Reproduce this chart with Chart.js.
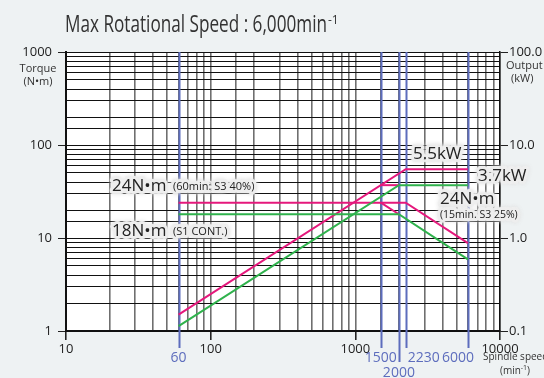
<!DOCTYPE html>
<html>
<head>
<meta charset="utf-8">
<script src="https://cdn.jsdelivr.net/npm/chart.js@4.4.1/dist/chart.umd.min.js"></script>
<style>
  html, body { margin: 0; padding: 0; background: #eef2f3; }
  #wrap { width: 544px; height: 378px; position: relative; }
</style>
</head>
<body>
<div id="wrap"><canvas id="chart"></canvas></div>
<script>
// rotational speed (min-1) / torque (N·m) / output (kW)
const torqueS3Speed = [60, 2230, 6000];
const torqueS3 = [24, 24, 8.8];
const outputS3Speed = [60, 2230, 6000];
const outputS3 = [0.15, 5.5, 5.5];

const torque15Speed = [1500, 2000];
const torque15 = [24, 18];
const output15Speed = [1500, 2000];
const output15 = [3.7, 3.7];

const torqueS1Speed = [60, 2000, 6000];
const torqueS1 = [18, 18, 5.9];
const outputS1Speed = [60, 2000, 6000];
const outputS1 = [0.113, 3.7, 3.7];

const markerSpeeds = [60, 1500, 2000, 2230, 6000];
const xTickLabels = [10, 100, 1000, 10000];
const yTickLabels = [1, 10, 100, 1000];
const y2TickLabels = [0.1, 1, 10, 100];

const PINK = '#e5187c';
const GREEN = '#2fb24c';
const BLUE = '#5d6dbd';
const FONT = '"Open Sans", "DejaVu Sans", sans-serif';

function pts(xs, ys) {
  return xs.map((x, i) => ({ x: x, y: ys[i] }));
}

function isDecade(v) {
  const l = Math.log10(v);
  return Math.abs(l - Math.round(l)) < 1e-6;
}

function line(data, color, axis) {
  return {
    data: data,
    borderColor: color,
    borderWidth: 2,
    pointRadius: 0,
    fill: false,
    tension: 0,
    yAxisID: axis
  };
}

// texte avec halo clair
function haloText(ctx, text, x, y, size) {
  ctx.font = size + 'px ' + FONT;
  ctx.lineJoin = 'round';
  ctx.save();
  ctx.shadowColor = 'rgba(225,225,225,1)';
  ctx.shadowBlur = 4;
  ctx.strokeStyle = 'rgba(238,238,238,0.95)';
  ctx.lineWidth = 6;
  ctx.strokeText(text, x, y);
  ctx.restore();
  ctx.fillStyle = '#222';
  ctx.fillText(text, x, y);
}

const decor = {
  id: 'decor',
  beforeDraw(chart) {
    const { ctx, chartArea: a } = chart;
    ctx.save();
    ctx.fillStyle = '#ffffff';
    ctx.fillRect(a.left, a.top, a.right - a.left, a.bottom - a.top);
    ctx.restore();
  },
  beforeDatasetsDraw(chart) {
    const { ctx, chartArea: a } = chart;
    const xs = chart.scales.x;
    ctx.save();
    ctx.strokeStyle = BLUE;
    ctx.lineWidth = 2;
    markerSpeeds.forEach(s => {
      const px = Math.round(xs.getPixelForValue(s)) + 0.5;
      ctx.beginPath();
      ctx.moveTo(px, a.top);
      ctx.lineTo(px, s === 2000 ? a.bottom + 31 : a.bottom + 17);
      ctx.stroke();
    });
    ctx.restore();
  },
  afterDraw(chart) {
    const { ctx } = chart;
    const xs = chart.scales.x;
    ctx.save();
    ctx.textBaseline = 'alphabetic';

    // titre
    const title = 'Max Rotational Speed : 6,000min';
    ctx.font = '23px ' + FONT;
    ctx.fillStyle = '#333';
    const w = ctx.measureText(title).width;
    ctx.save();
    ctx.translate(65, 32);
    ctx.scale(262 / w, 1);
    ctx.fillText(title, 0, 0);
    ctx.restore();
    ctx.font = '12px ' + FONT;
    ctx.fillText('-1', 328, 24);

    // titres d'axes
    ctx.fillStyle = '#333';
    ctx.font = '11px ' + FONT;
    ctx.textAlign = 'center';
    ctx.fillText('Torque', 38, 72);
    ctx.fillText('(N•m)', 38, 85);
    ctx.textAlign = 'left';
    ctx.fillText('Output', 506, 69);
    ctx.fillText('(kW)', 511, 82);
    ctx.font = '10px ' + FONT;
    ctx.fillText('Spindle speed', 483, 360);
    ctx.fillText('(min', 500, 374);
    const mw = ctx.measureText('(min').width;
    ctx.font = '7px ' + FONT;
    ctx.fillText('-1', 500 + mw, 370);
    const sw = ctx.measureText('-1').width;
    ctx.font = '10px ' + FONT;
    ctx.fillText(')', 500 + mw + sw, 374);

    // repères de vitesse
    ctx.fillStyle = BLUE;
    ctx.font = '14px ' + FONT;
    markerSpeeds.forEach(s => {
      const px = xs.getPixelForValue(s);
      if (s === 2230) {
        ctx.textAlign = 'left';
        ctx.fillText(String(s), px + 2, 362);
      } else if (s === 6000) {
        ctx.textAlign = 'right';
        ctx.fillText(String(s), px + 6, 362);
      } else if (s === 2000) {
        ctx.textAlign = 'center';
        ctx.fillText(String(s), px, 377);
      } else {
        ctx.textAlign = 'center';
        ctx.fillText(String(s), px, 362);
      }
    });

    // annotations
    ctx.textAlign = 'left';
    haloText(ctx, '24N•m', 112, 191, 17);
    haloText(ctx, '(60min: S3 40%)', 173, 190, 11);
    haloText(ctx, '18N•m', 112, 236, 17);
    haloText(ctx, '(S1 CONT.)', 173, 235, 11);
    haloText(ctx, '5.5kW', 413, 159, 17);
    haloText(ctx, '3.7kW', 478, 181, 17);
    haloText(ctx, '24N•m', 440, 204, 17);
    haloText(ctx, '(15min. S3 25%)', 440, 218, 10.5);
    ctx.restore();
  }
};

const majorTick = c => (c.tick && isDecade(c.tick.value)) ? '#222' : 'rgba(0,0,0,0)';

new Chart(document.getElementById('chart'), {
  type: 'line',
  data: {
    datasets: [
      line(pts(torqueS1Speed, torqueS1), GREEN, 'y'),
      line(pts(outputS1Speed, outputS1), GREEN, 'y2'),
      line(pts(torqueS3Speed, torqueS3), PINK, 'y'),
      line(pts(outputS3Speed, outputS3), PINK, 'y2'),
      line(pts(torque15Speed, torque15), PINK, 'y'),
      line(pts(output15Speed, output15), PINK, 'y2')
    ]
  },
  options: {
    responsive: true,
    maintainAspectRatio: false,
    animation: false,
    devicePixelRatio: 1,
    layout: { padding: { top: 52, left: 0, right: 0, bottom: 0 } },
    plugins: { legend: { display: false }, tooltip: { enabled: false } },
    scales: {
      x: {
        type: 'logarithmic',
        min: 10,
        max: 10000,
        position: 'bottom',
        grid: { color: '#6f6f6f', lineWidth: 1.6, tickLength: 9, tickColor: majorTick },
        border: { display: true, color: '#111', width: 1.5 },
        ticks: {
          autoSkip: false,
          maxRotation: 0,
          padding: 1,
          color: '#222',
          font: { family: FONT, size: 13 },
          callback: v => xTickLabels.some(t => Math.abs(t - v) < 1e-6) ? String(v) : ''
        },
        afterFit: s => { s.height = 47; }
      },
      y: {
        type: 'logarithmic',
        min: 1,
        max: 1000,
        position: 'left',
        grid: { color: '#111', lineWidth: 1, tickLength: 8, tickColor: majorTick },
        border: { display: true, color: '#111', width: 2 },
        ticks: {
          autoSkip: false,
          padding: 6,
          color: '#222',
          font: { family: FONT, size: 13 },
          callback: v => yTickLabels.some(t => Math.abs(t - v) < 1e-6) ? String(v) : ''
        },
        afterFit: s => { s.width = 66; }
      },
      y2: {
        type: 'logarithmic',
        min: 0.1,
        max: 100,
        position: 'right',
        grid: { drawOnChartArea: false, tickLength: 8, tickColor: majorTick },
        border: { display: true, color: '#111', width: 1.5 },
        ticks: {
          autoSkip: false,
          padding: 1,
          color: '#222',
          font: { family: FONT, size: 13 },
          callback: v => y2TickLabels.some(t => Math.abs(t - v) < 1e-6) ? v.toFixed(1) : ''
        },
        afterFit: s => { s.width = 44; }
      }
    }
  },
  plugins: [decor]
});
</script>
</body>
</html>
